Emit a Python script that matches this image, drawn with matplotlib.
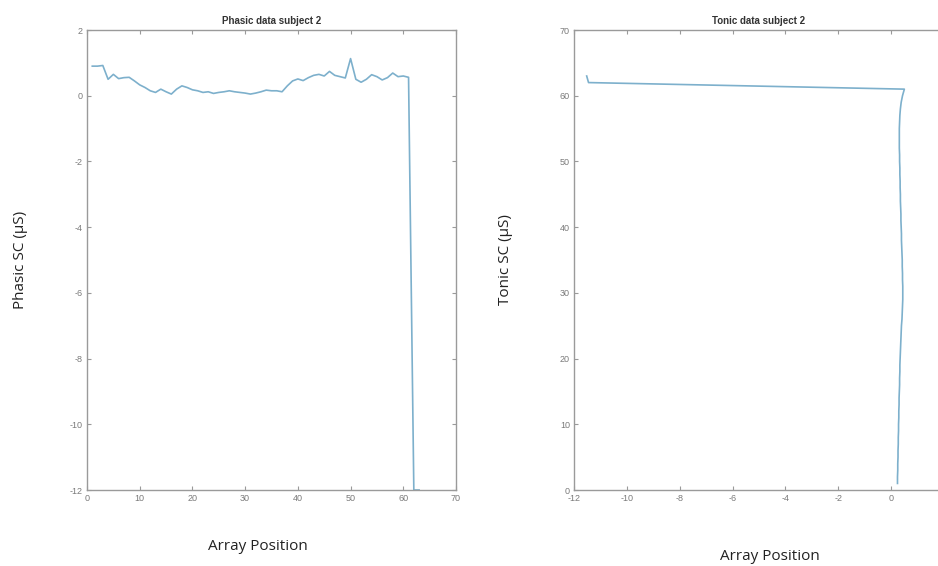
import matplotlib
matplotlib.use("Agg")
import matplotlib.pyplot as plt
import numpy as np

plt.rcParams["axes.unicode_minus"] = False

# ---- data ----
phasic_values = [0.90, 0.90, 0.92, 0.50, 0.65, 0.52, 0.55, 0.56, 0.45, 0.33,
                 0.25, 0.15, 0.10, 0.20, 0.12, 0.05, 0.20, 0.30, 0.25, 0.18,
                 0.15, 0.10, 0.12, 0.07, 0.10, 0.12, 0.15, 0.12, 0.10, 0.08,
                 0.05, 0.08, 0.12, 0.17, 0.15, 0.15, 0.12, 0.30, 0.45, 0.51,
                 0.46, 0.55, 0.62, 0.65, 0.60, 0.74, 0.62, 0.58, 0.54, 1.13,
                 0.50, 0.41, 0.50, 0.64, 0.58, 0.48, 0.55, 0.69, 0.58, 0.60,
                 0.56, -12.0, -12.0]
phasic_positions = list(range(1, len(phasic_values) + 1))

tonic_values = [0.24, 0.24, 0.25, 0.25, 0.26, 0.26, 0.27, 0.27, 0.28, 0.28,
                0.29, 0.29, 0.30, 0.30, 0.31, 0.32, 0.32, 0.33, 0.33, 0.34,
                0.35, 0.36, 0.37, 0.38, 0.39, 0.41, 0.42, 0.43, 0.44, 0.44,
                0.44, 0.43, 0.43, 0.42, 0.42, 0.41, 0.40, 0.39, 0.39, 0.38,
                0.37, 0.37, 0.36, 0.35, 0.35, 0.34, 0.34, 0.33, 0.33, 0.32,
                0.32, 0.31, 0.31, 0.31, 0.31, 0.32, 0.33, 0.35, 0.38, 0.43,
                0.50, -11.45, -11.52]
tonic_positions = list(range(1, len(tonic_values) + 1))

phasic_xticks = [0, 10, 20, 30, 40, 50, 60, 70]
phasic_yticks = [-12, -10, -8, -6, -4, -2, 0, 2]
tonic_xticks = [-12, -10, -8, -6, -4, -2, 0, 2]
tonic_xticklabels = ["-12", "-10", "-8", "-6", "-4", "-2", "0", ""]  # "2" falls off the page
tonic_yticks = [0, 10, 20, 30, 40, 50, 60, 70]

# ---- figure ----
W, H = 938, 566
fig = plt.figure(figsize=(W / 100, H / 100), dpi=100)
fig.patch.set_facecolor("white")

line_color = "#7db0cc"
spine_color = "#9a9a9a"
tick_color = "#7a7a7a"
label_font = ["Open Sans", "DejaVu Sans"]

def style_axes(ax):
    for s in ax.spines.values():
        s.set_color(spine_color)
        s.set_linewidth(1.0)
    ax.tick_params(direction="in", top=True, right=True, length=3,
                   width=0.8, color=spine_color, labelcolor=tick_color,
                   labelsize=6.5, pad=3)
    for lab in ax.get_xticklabels() + ax.get_yticklabels():
        lab.set_family(["Liberation Sans", "DejaVu Sans"])

def px_axes(left, right, top, bottom):
    return [left / W, 1 - bottom / H, (right - left) / W, (bottom - top) / H]

# left: phasic
ax1 = fig.add_axes(px_axes(87, 456, 30, 490))
ax1.plot(phasic_positions, phasic_values, color=line_color, linewidth=1.2)
ax1.set_xlim(0, 70)
ax1.set_ylim(-12, 2)
ax1.set_xticks(phasic_xticks)
ax1.set_yticks(phasic_yticks)
style_axes(ax1)
ax1.set_title("Phasic data subject 2", fontsize=7, fontweight="bold",
              color="#333333", family=["Liberation Sans", "DejaVu Sans"], pad=4)
ax1.set_ylabel("Phasic SC (µS)", fontsize=11, family=label_font,
               color="#222222", va="center")
ax1.yaxis.set_label_coords((20 - 87) / 369, 0.5)
ax1.set_xlabel("Array Position", fontsize=11, family=label_font,
               color="#222222", va="center")
ax1.xaxis.set_label_coords((258 - 87) / 369, (490 - 547) / 460)

# right: tonic (axis extends past the figure edge)
ax2 = fig.add_axes(px_axes(574, 944, 30, 490))
ax2.plot(tonic_values, tonic_positions, color=line_color, linewidth=1.2)
ax2.set_xlim(-12, 2)
ax2.set_ylim(0, 70)
ax2.set_xticks(tonic_xticks)
ax2.set_xticklabels(tonic_xticklabels)
ax2.set_yticks(tonic_yticks)
style_axes(ax2)
ax2.set_title("Tonic data subject 2", fontsize=7, fontweight="bold",
              color="#333333", family=["Liberation Sans", "DejaVu Sans"], pad=4)
ax2.set_ylabel("Tonic SC (µS)", fontsize=11, family=label_font,
               color="#222222", va="center")
ax2.yaxis.set_label_coords((505 - 574) / 370, 0.5)
ax2.set_xlabel("Array Position", fontsize=11, family=label_font,
               color="#222222", va="center")
ax2.xaxis.set_label_coords((770 - 574) / 370, (490 - 556) / 460)

fig.savefig("out.png", dpi=100, facecolor="white")
